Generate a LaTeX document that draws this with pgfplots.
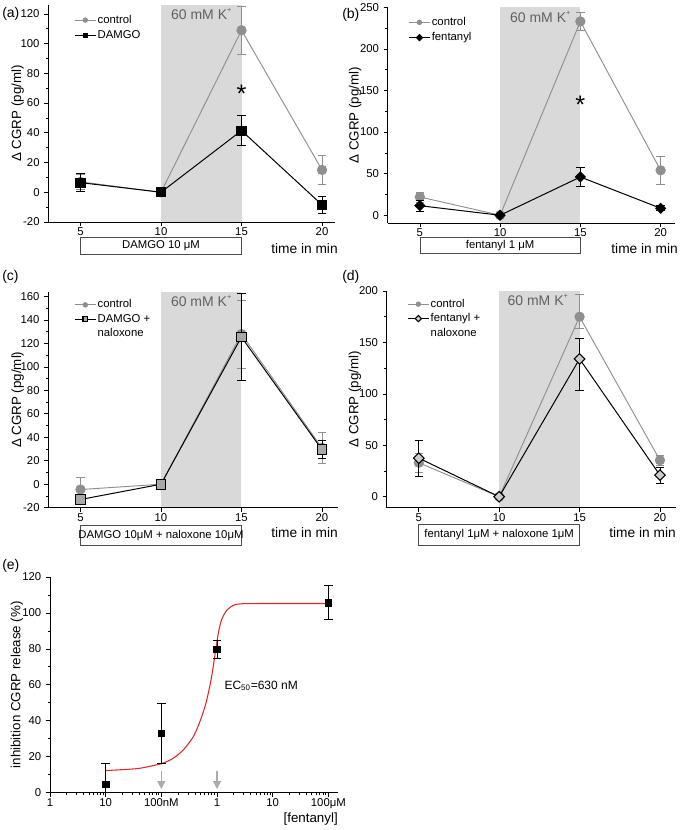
\documentclass[border=0pt]{standalone}
\usepackage{fontspec}
\setmainfont{Liberation Sans}
\usepackage{pgfplots}
\pgfplotsset{compat=1.18}
\usetikzlibrary{arrows.meta}

\definecolor{ctrlc}{gray}{0.56}
\definecolor{bandc}{gray}{0.85}
\definecolor{ktext}{gray}{0.38}
\definecolor{boxc}{gray}{0.3}
\definecolor{sqfill}{gray}{0.66}
\definecolor{dfill}{gray}{0.8}
\definecolor{fitred}{RGB}{222,40,40}

\pgfplotsset{
  panel/.style={
    scale only axis, axis on top,
    axis x line*=bottom, axis y line*=left,
    tick align=outside,
    major tick length=3pt, minor tick length=1.8pt,
    every tick/.style={black, line width=0.5pt},
    axis line style={line width=0.6pt},
    tick label style={font=\fontsize{8.5}{10}\selectfont},
    xticklabel style={yshift=2pt},
    /pgf/number format/assume math mode=true,
    label style={font=\fontsize{10.2}{12}\selectfont},
    clip mode=individual,
    xtick={5,10,15,20}, xmin=3,
    minor y tick num=1,
    legend style={draw=none, fill=none, inner sep=0pt, outer sep=0pt, row sep=1.8pt,
      nodes={inner sep=1pt}, font=\fontsize{8.5}{10}\selectfont,
      at={(rel axis cs:0,1)}, anchor=north west, xshift=19.5pt, yshift=-6.5pt},
    legend cell align=left,
    legend image code/.code={\draw[mark repeat=2, mark phase=2, ##1, mark size=1.7pt, line width=0.6pt] plot coordinates {(0cm,0cm) (0.28cm,0cm) (0.56cm,0cm)};},
  },
  ylab/.style={every axis y label/.style={at={(rel axis cs:0,0.5)}, xshift=-#1, rotate=90, anchor=center}},
  ctrlplot/.style={color=ctrlc, line width=0.7pt, mark=*, mark size=3.5pt,
    mark options={fill=ctrlc, draw=ctrlc, solid},
    error bars/y dir=both, error bars/y explicit,
    error bars/error bar style={ctrlc, line width=0.6pt},
    error bars/error mark options={rotate=90, mark size=3.2pt, ctrlc, line width=0.6pt}},
  expplot/.style={color=black, line width=0.75pt,
    error bars/y dir=both, error bars/y explicit,
    error bars/error bar style={black, line width=0.6pt},
    error bars/error mark options={rotate=90, mark size=3.2pt, black, line width=0.6pt}},
  bandplot/.style={draw=none, fill=bandc, forget plot},
}
\newcommand{\kplus}{\textcolor{ktext}{60 mM K\raisebox{0.95ex}{\fontsize{5.5}{6}\selectfont +}}}
\newcommand{\bigast}{\fontsize{19}{19}\selectfont *}

\begin{document}
\begin{tikzpicture}
\useasboundingbox (0,0) rectangle (510pt,622.5pt);

% panel labels
\node[anchor=west, inner sep=0pt, font=\fontsize{10.5}{12}\selectfont] at (1.5pt,612pt) {(a)};
\node[anchor=west, inner sep=0pt, font=\fontsize{10.5}{12}\selectfont] at (256.5pt,611.3pt) {(b)};
\node[anchor=west, inner sep=0pt, font=\fontsize{10.5}{12}\selectfont] at (1.5pt,414.8pt) {(c)};
\node[anchor=west, inner sep=0pt, font=\fontsize{10.5}{12}\selectfont] at (256.5pt,414.8pt) {(d)};
\node[anchor=west, inner sep=0pt, font=\fontsize{10.5}{12}\selectfont] at (1.5pt,198pt) {(e)};

% ---------------- (a)
\begin{axis}[panel, ylab=23pt, at={(36.2pt,456pt)}, anchor=south west,
  width=215pt, height=162.75pt, xmax=20.8, ymin=-20, ymax=126,
  ytick={-20,0,...,120}, ylabel={Δ CGRP (pg/ml)}]
\addplot[bandplot] coordinates {(10,-20) (10,126) (15,126) (15,-20)};
\addplot[ctrlplot] coordinates {(5,7) +- (0,5) (10,0) +- (0,0) (15,109) +- (0,16) (20,15) +- (0,9.5)};
\addplot[expplot, mark=square*, mark size=3.4pt, mark options={fill=black}] coordinates {(5,6.5) +- (0,6) (10,0) +- (0,0) (15,41.5) +- (0,10) (20,-8.5) +- (0,5.6)};
\legend{control, DAMGO}
\node[anchor=north, inner sep=0pt, font=\fontsize{10.5}{12}\selectfont] at ([yshift=-2.5pt]axis cs:12.5,126) {\kplus};
\node[inner sep=0pt] at ([yshift=-4.5pt]axis cs:15,70) {\bigast};
\draw[boxc, line width=0.5pt] ([yshift=-11.25pt]axis cs:5,-20) rectangle ([yshift=-24pt]axis cs:15,-20);
\node[font=\fontsize{8.5}{10}\selectfont] at ([yshift=-17.6pt]axis cs:10,-20) {DAMGO 10 μM};
\node[anchor=east, inner sep=0pt, font=\fontsize{10.3}{12}\selectfont] at ([yshift=-20.25pt, xshift=2.25pt]rel axis cs:1,0) {time in min};
\end{axis}

% ---------------- (b)
\begin{axis}[panel, ylab=24.5pt, at={(290.8pt,455.25pt)}, anchor=south west,
  width=215.5pt, height=161.8pt, xmax=20.9, ymin=-9.3, ymax=250,
  ytick={0,50,...,250}, ylabel={Δ CGRP (pg/ml)},
  legend style={xshift=-4pt}]
\addplot[bandplot] coordinates {(10,-9.3) (10,250) (15,250) (15,-9.3)};
\addplot[ctrlplot] coordinates {(5,22) +- (0,6) (10,0) +- (0,0) (15,233) +- (0,11) (20,54) +- (0,17)};
\addplot[expplot, mark=square*, mark size=2.6pt, mark options={rotate=45, fill=black}] coordinates {(5,11.5) +- (0,6.5) (10,0) +- (0,0) (15,46) +- (0,11) (20,8.4) +- (0,3)};
\legend{control, fentanyl}
\node[anchor=north, inner sep=0pt, font=\fontsize{10.5}{12}\selectfont] at ([yshift=-2.5pt]axis cs:12.5,250) {\kplus};
\node[inner sep=0pt] at ([yshift=-4.5pt]axis cs:15,140) {\bigast};
\draw[boxc, line width=0.5pt] ([yshift=-10.7pt]axis cs:5,-9.3) rectangle ([yshift=-22.7pt]axis cs:15,-9.3);
\node[font=\fontsize{8.5}{10}\selectfont] at ([yshift=-16.7pt]axis cs:10,-9.3) {fentanyl 1 μM};
\node[anchor=east, inner sep=0pt, font=\fontsize{10.3}{12}\selectfont] at ([yshift=-19.5pt, xshift=2.25pt]rel axis cs:1,0) {time in min};
\end{axis}

% ---------------- (c)
\begin{axis}[panel, ylab=23pt, at={(36.2pt,241.7pt)}, anchor=south west,
  width=217.3pt, height=162pt, xmax=21, ymin=-20, ymax=164,
  ytick={-20,0,...,160}, ylabel={Δ CGRP (pg/ml)},
  legend style={yshift=1.5pt, row sep=1.2pt}]
\addplot[bandplot] coordinates {(10,-20) (10,164) (15,164) (15,-20)};
\addplot[ctrlplot] coordinates {(5,-4.5) +- (0,10) (10,0) +- (0,0) (15,128) +- (0,29) (20,31) +- (0,13)};
\addplot[expplot, mark=square*, mark size=3.6pt, mark options={fill=sqfill, draw=black, line width=0.8pt}] coordinates {(5,-13) +- (0,3) (10,0) +- (0,0) (15,125.4) +- (0,37) (20,29.6) +- (0,8)};
\addlegendimage{empty legend}
\legend{control, DAMGO +, naloxone}
\node[anchor=north, inner sep=0pt, font=\fontsize{10.5}{12}\selectfont] at ([yshift=-2.5pt]axis cs:12.5,164) {\kplus};
\draw[boxc, line width=0.5pt] ([yshift=-13pt]axis cs:5,-20) rectangle ([yshift=-28pt]axis cs:15,-20);
\node[font=\fontsize{8.5}{10}\selectfont] at ([yshift=-20.5pt]axis cs:10,-20) {DAMGO 10μM + naloxone 10μM};
\node[anchor=east, inner sep=0pt, font=\fontsize{10.3}{12}\selectfont] at ([yshift=-18.75pt]rel axis cs:1,0) {time in min};
\end{axis}

% ---------------- (d)
\begin{axis}[panel, ylab=23.8pt, at={(290pt,241.7pt)}, anchor=south west,
  width=217pt, height=162.5pt, xmax=21, ymin=-10.7, ymax=200,
  ytick={0,50,...,200}, ylabel={Δ CGRP (pg/ml)},
  legend style={xshift=-4pt, yshift=1.5pt, row sep=1.2pt}]
\addplot[bandplot] coordinates {(10,-10.7) (10,200) (15,200) (15,-10.7)};
\addplot[ctrlplot] coordinates {(5,33) +- (0,9) (10,0) +- (0,0) (15,175) += (0,22) -= (0,11) (20,35.5) +- (0,5)};
\addplot[expplot, mark=square*, mark size=2.8pt, mark options={rotate=45, fill=dfill, draw=black, line width=0.8pt}] coordinates {(5,37.5) +- (0,17.5) (10,0) +- (0,0) (15,134) += (0,20) -= (0,31) (20,21) +- (0,8)};
\addlegendimage{empty legend}
\legend{control, fentanyl +, naloxone}
\node[anchor=north, inner sep=0pt, font=\fontsize{10.5}{12}\selectfont] at ([yshift=-2.5pt]axis cs:12.4,200) {\kplus};
\draw[boxc, line width=0.5pt] ([yshift=-12.5pt]axis cs:5,-10.7) rectangle ([yshift=-28.5pt]axis cs:15,-10.7);
\node[font=\fontsize{8.5}{10}\selectfont] at ([yshift=-20.5pt]axis cs:10,-10.7) {fentanyl 1μM + naloxone 1μM};
\node[anchor=east, inner sep=0pt, font=\fontsize{10.3}{12}\selectfont] at ([yshift=-18.5pt]rel axis cs:1,0) {time in min};
\end{axis}

% ---------------- (e)
\begin{axis}[panel, ylab=24.75pt, at={(37.5pt,28pt)}, anchor=south west,
  width=216pt, height=161.8pt, xmode=log, log basis x=10,
  xmin=1, xmax=149000, ymin=0, ymax=120,
  xtick={1,10,100,1000,10000,100000},
  xticklabels={1,10,100nM,1,10,100μM},
  minor xtick={2,3,4,5,6,7,8,9,20,30,40,50,60,70,80,90,200,300,400,500,600,700,800,900,2000,3000,4000,5000,6000,7000,8000,9000,20000,30000,40000,50000,60000,70000,80000,90000},
  ytick={0,20,...,120}, ylabel={inhibition CGRP release (\%)}]
\addplot[fitred, line width=0.8pt, smooth, no marks] coordinates {
 (10,12.3) (20,12.8) (41.4,13.6) (101,16.2) (164,19.2) (248,23.8) (376,31.2)
 (494,39.6) (608,47.9) (698,55.4) (802,64.7) (920,76.8) (1057,88.8) (1213,96.3)
 (1493,101.4) (1963,104.2) (2588,105) (5000,105.2) (100000,105.2)};
\addplot[expplot, draw=none, mark=square*, mark size=2.5pt, mark options={fill=black}] coordinates {
 (10,4.6) += (0,11.8) -= (0,4.6) (100,33) +- (0,16.5) (1000,79.6) +- (0,5) (100000,105.6) +- (0,9.5)};
\draw[-{Triangle[width=6pt,length=6pt]}, gray!65, line width=1pt] (axis cs:100,12) -- (axis cs:100,2);
\draw[-{Triangle[width=6pt,length=6pt]}, gray!65, line width=1pt] (axis cs:1000,12) -- (axis cs:1000,2);
\node[anchor=west, inner sep=0pt, font=\fontsize{9}{10}\selectfont] at (axis cs:1350,59.5) {EC\textsubscript{50}=630 nM};
\node[anchor=east, inner sep=0pt, font=\fontsize{10}{12}\selectfont] at ([yshift=-20pt]rel axis cs:1,0) {[fentanyl]};
\end{axis}
\end{tikzpicture}
\end{document}
